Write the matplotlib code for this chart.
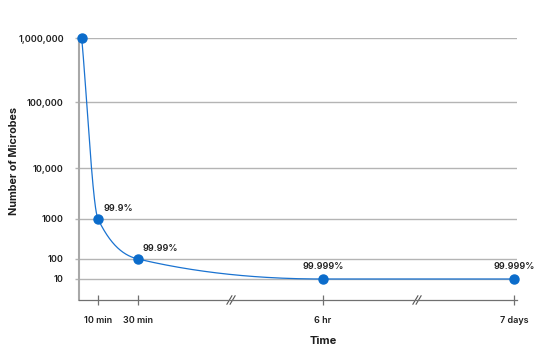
#!/usr/bin/env python3
import matplotlib

matplotlib.use("Agg")
import matplotlib.pyplot as plt
import numpy as np

plt.rcParams["font.family"] = ["Inter", "DejaVu Sans"]

# data
time_minutes = [0, 10, 30, 360, 10080]
microbes = [1_000_000, 1000, 100, 10, 10]
kill_labels = [None, "99.9%", "99.99%", "99.999%", "99.999%"]
time_tick_minutes = [10, 30, 360, 10080]
time_tick_labels = ["10 min", "30 min", "6 hr", "7 days"]
count_ticks = [10, 100, 1000, 10_000, 100_000, 1_000_000]
count_tick_labels = ["10", "100", "1000", "10,000", "100,000", "1,000,000"]

# broken-axis layout: where each known value sits along the axis
x_knots = np.array([0, 10, 30, 360, 10080], dtype=float)
x_place = np.array([2.7, 19, 59, 244, 435])
y_knots = np.array([0, 1, 2, 3, 4, 5, 6], dtype=float)
y_place = np.array([0, 21, 41, 81, 132, 198, 262])

BLUE = "#1a73d1"
DOT = "#0b6ccb"
GRID = "#b4b4b4"
TEXT = "#1e1e1e"


def piecewise(values, xp, fp):
    values = np.asarray(values, dtype=float)
    out = np.interp(values, xp, fp)
    lo = values < xp[0]
    hi = values > xp[-1]
    out[lo] = fp[0] + (values[lo] - xp[0]) * (fp[1] - fp[0]) / (xp[1] - xp[0])
    out[hi] = fp[-1] + (values[hi] - xp[-1]) * (fp[-1] - fp[-2]) / (xp[-1] - xp[-2])
    return out


def x_forward(t):
    return piecewise(t, x_knots, x_place)


def x_inverse(u):
    return piecewise(u, x_place, x_knots)


def y_forward(v):
    v = np.clip(np.asarray(v, dtype=float), 1e-12, None)
    return piecewise(np.log10(v), y_knots, y_place)


def y_inverse(u):
    return 10 ** piecewise(u, y_place, y_knots)


def monotone_curve(x, y, samples=60):
    # Fritsch-Carlson monotone cubic through the points
    x = np.asarray(x, dtype=float)
    y = np.asarray(y, dtype=float)
    h = np.diff(x)
    d = np.diff(y) / h
    m = np.zeros_like(y)
    m[0], m[-1] = d[0], d[-1]
    for i in range(1, len(y) - 1):
        if d[i - 1] * d[i] <= 0:
            m[i] = 0
        else:
            w1 = 2 * h[i] + h[i - 1]
            w2 = h[i] + 2 * h[i - 1]
            m[i] = (w1 + w2) / (w1 / d[i - 1] + w2 / d[i])
    xs, ys = [], []
    for i in range(len(h)):
        s = np.linspace(0, 1, samples)
        h00 = 2 * s**3 - 3 * s**2 + 1
        h10 = s**3 - 2 * s**2 + s
        h01 = -2 * s**3 + 3 * s**2
        h11 = s**3 - s**2
        xs.append(x[i] + s * h[i])
        ys.append(h00 * y[i] + h10 * h[i] * m[i] + h01 * y[i + 1] + h11 * h[i] * m[i + 1])
    return np.concatenate(xs), np.concatenate(ys)


figure = plt.figure(figsize=(5.36, 3.55), dpi=100)
axis = figure.add_axes([79 / 536, 55 / 355, 438 / 536, 262 / 355])
axis.set_xscale("function", functions=(x_forward, x_inverse))
axis.set_yscale("function", functions=(y_forward, y_inverse))
axis.set_xlim(x_inverse(np.array([0.0]))[0], x_inverse(np.array([438.0]))[0])
axis.set_ylim(1, 1_000_000)

for value in count_ticks:
    axis.axhline(value, color=GRID, linewidth=1.0, zorder=1)

# smooth line drawn in axis placement space, mapped back to data
ux, uy = monotone_curve(x_forward(time_minutes), y_forward(microbes))
axis.plot(x_inverse(ux), y_inverse(uy), color=BLUE, linewidth=0.9, zorder=3)
axis.plot(time_minutes, microbes, "o", color=DOT, markersize=6.5, zorder=4, clip_on=False)

offsets = [None, (4, 4), (3, 4), (0, 6), (0, 6)]
aligns = [None, "left", "left", "center", "center"]
for t, v, label, off, ha in zip(time_minutes, microbes, kill_labels, offsets, aligns):
    if label is None:
        continue
    axis.annotate(label, (t, v), xytext=off, textcoords="offset points", ha=ha, va="bottom",
                  fontsize=6.5, fontweight="semibold", color=TEXT)

axis.set_yticks(count_ticks)
axis.set_yticklabels(count_tick_labels)
axis.yaxis.set_minor_locator(matplotlib.ticker.NullLocator())
axis.set_xticks(time_tick_minutes)
axis.set_xticklabels(time_tick_labels)
axis.xaxis.set_minor_locator(matplotlib.ticker.NullLocator())
axis.tick_params(axis="y", length=3, width=1.0, color=GRID, pad=8, labelsize=6.5, labelcolor=TEXT)
axis.tick_params(axis="x", direction="inout", length=7, width=0.9, color="#707070", pad=8,
                 labelsize=6.5, labelcolor=TEXT)
for label in axis.get_xticklabels() + axis.get_yticklabels():
    label.set_fontweight("semibold")

for side in ("top", "right"):
    axis.spines[side].set_visible(False)
axis.spines["left"].set_color("#a8a8a8")
axis.spines["left"].set_linewidth(1.5)
axis.spines["bottom"].set_color("#707070")
axis.spines["bottom"].set_linewidth(0.9)

# break marks on the time axis
for frac in (152 / 438, 338 / 438):
    for shift in (-1.6 / 438, 1.6 / 438):
        axis.plot([frac + shift - 2.5 / 438, frac + shift + 2.5 / 438], [-0.016, 0.016],
                  transform=axis.transAxes, color="#555555", linewidth=0.8, clip_on=False)

axis.set_xlabel("Time", fontsize=8, fontweight="bold", color=TEXT, labelpad=10)
axis.xaxis.set_label_coords(244 / 438, -0.137)
axis.set_ylabel("Number of Microbes", fontsize=7.8, fontweight="bold", color=TEXT)
axis.yaxis.set_label_coords(-60 / 438, 0.53)

figure.savefig("out.png", dpi=100)
